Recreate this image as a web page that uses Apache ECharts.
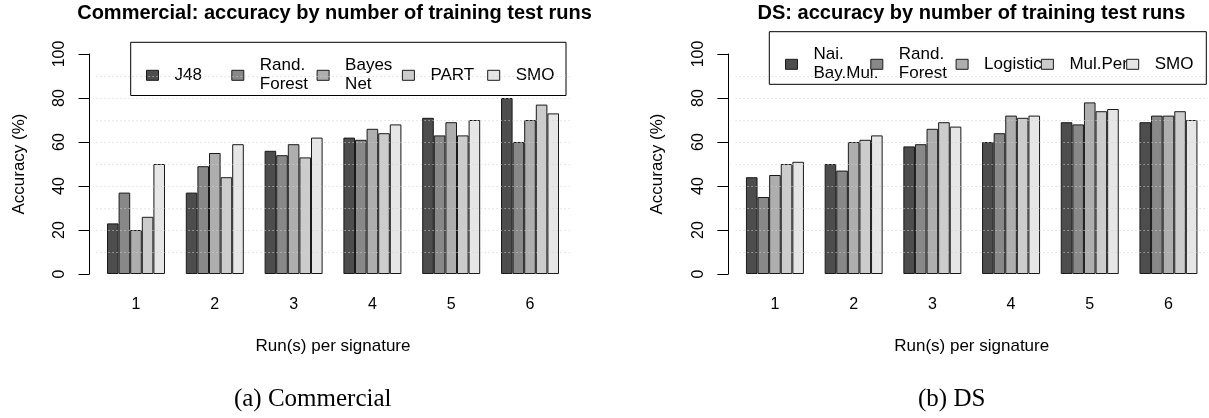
<!DOCTYPE html>
<html>
<head>
<meta charset="utf-8">
<script src="https://cdn.jsdelivr.net/npm/echarts@6/dist/echarts.min.js"></script>
<style>
  html, body { margin: 0; padding: 0; background: #fff; }
  #chart { width: 1209px; height: 418px; }
</style>
</head>
<body>
<div id="chart"></div>
<script>
// x categories
const runs = ['1', '2', '3', '4', '5', '6'];

// Commercial
const commNames = ['J48', 'Rand.\nForest', 'Bayes\nNet', 'PART', 'SMO'];
const commJ48 = [23, 37, 56, 62, 71, 80];
const commRandForest = [37, 49, 54, 61, 63, 60];
const commBayesNet = [20, 55, 59, 66, 69, 70];
const commPART = [26, 44, 53, 64, 63, 77];
const commSMO = [50, 59, 62, 68, 70, 73];

// DS
const dsNames = ['Nai.\nBay.Mul.', 'Rand.\nForest', 'Logistic', 'Mul.Per', 'SMO'];
const dsNaiBayMul = [44, 50, 58, 60, 69, 69];
const dsRandForest = [35, 47, 59, 64, 68, 72];
const dsLogistic = [45, 60, 66, 72, 78, 72];
const dsMulPer = [50, 61, 69, 71, 74, 74];
const dsSMO = [51, 63, 67, 72, 75, 70];

const gridVals = [10, 20, 30, 40, 50, 60, 70, 80, 90];

const grays = ['#4d4d4d', '#888888', '#aeaeae', '#cccccc', '#e6e6e6'];
const sans = 'Liberation Sans, Arial, Helvetica, sans-serif';
const serif = 'Liberation Serif, Times New Roman, serif';

const chart = echarts.init(document.getElementById('chart'));

// panel layout
const panels = [
    { gl: 96.6, gw: 472.8, ax: 89.5, tc: 334.5, cap: '(a) Commercial', capc: 312.7,
      title: 'Commercial: accuracy by number of training test runs',
      box: [130.7, 42.3, 435.3, 53.2], lx: 146, ly: 75.3,
      names: commNames, data: [commJ48, commRandForest, commBayesNet, commPART, commSMO] },
    { gl: 735.6, gw: 472.2, ax: 728.3, tc: 971.5, cap: '(b) DS', capc: 951.7,
      title: 'DS: accuracy by number of training test runs',
      box: [769.3, 31.7, 437, 52.6], lx: 785, ly: 64.3,
      names: dsNames, data: [dsNaiBayMul, dsRandForest, dsLogistic, dsMulPer, dsSMO] }
];

const titles = [], grids = [], xAxes = [], yAxes = [], series = [], legends = [], graphics = [];

panels.forEach(function (p, k) {
    titles.push({
        text: p.title, left: p.tc, top: 3, textAlign: 'center', padding: 0,
        textStyle: { fontFamily: sans, fontSize: 20, fontWeight: 'bold', color: '#000' }
    });
    titles.push({
        text: p.cap, left: p.capc, top: 387, textAlign: 'center', padding: 0,
        textStyle: { fontFamily: serif, fontSize: 25, fontWeight: 'normal', color: '#000' }
    });
    grids.push({ left: p.gl, width: p.gw, top: 54, height: 220 });
    xAxes.push({
        type: 'category', gridIndex: k, data: runs,
        axisLine: { show: false }, axisTick: { show: false },
        axisLabel: { margin: 23, fontFamily: sans, fontSize: 16, color: '#000' },
        name: 'Run(s) per signature', nameLocation: 'middle', nameGap: 64,
        nameTextStyle: { fontFamily: sans, fontSize: 17, color: '#000' }
    });
    yAxes.push({
        type: 'value', gridIndex: k, min: 0, max: 100, interval: 20,
        offset: p.gl - p.ax,
        axisLine: { show: true, lineStyle: { color: '#000', width: 1 } },
        axisTick: { show: true, length: 11, lineStyle: { color: '#000' } },
        axisLabel: { rotate: 90, margin: 22, fontFamily: sans, fontSize: 16, color: '#000' },
        splitLine: { show: false },
        name: 'Accuracy (%)', nameLocation: 'middle', nameRotate: 90, nameGap: 62,
        nameTextStyle: { fontFamily: sans, fontSize: 17, color: '#000' }
    });
    p.data.forEach(function (vals, i) {
        const s = {
            type: 'bar', name: p.names[i], xAxisIndex: k, yAxisIndex: k,
            data: vals, barWidth: 11.6, barGap: '0%',
            itemStyle: { color: grays[i], borderColor: '#1a1a1a', borderWidth: 1 },
            emphasis: { disabled: true }
        };
        if (i === p.data.length - 1) {
            // dotted reference lines drawn over the bars, as in the original
            s.markLine = {
                silent: true, symbol: ['none', 'none'], label: { show: false },
                lineStyle: { color: '#cfcfcf', type: [1, 3], width: 1 },
                emphasis: { disabled: true },
                data: gridVals.map(function (v) { return { yAxis: v }; })
            };
        }
        series.push(s);
        const lines = p.names[i].split('\n').length;
        legends.push({
            data: [p.names[i]], left: p.lx + i * 85.3, top: p.ly - 9.5 * lines,
            padding: 0, itemWidth: 12, itemHeight: 10, itemGap: 0, selectedMode: false,
            icon: 'rect',
            itemStyle: { borderColor: '#1a1a1a', borderWidth: 1 },
            textStyle: { fontFamily: sans, fontSize: 17, color: '#000', lineHeight: 19, padding: [0, 0, 0, 11] }
        });
    });
    graphics.push({
        type: 'rect', silent: true,
        shape: { x: p.box[0], y: p.box[1], width: p.box[2], height: p.box[3] },
        style: { fill: 'none', stroke: '#000', lineWidth: 1 }
    });
});

const option = {
    backgroundColor: '#fff',
    animation: false,
    title: titles,
    grid: grids,
    xAxis: xAxes,
    yAxis: yAxes,
    legend: legends,
    series: series,
    graphic: graphics
};
option && chart.setOption(option);
</script>
</body>
</html>
